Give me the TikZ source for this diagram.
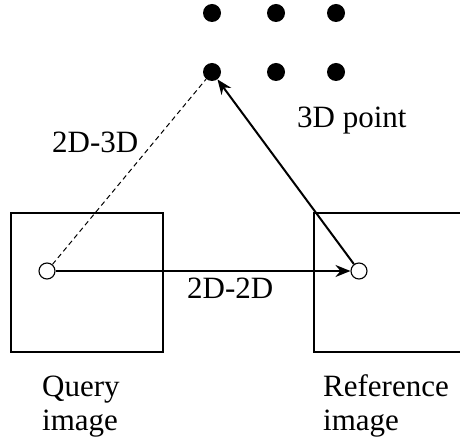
\documentclass[tikz,border=0pt]{standalone}
\usepackage{fontspec}
\setmainfont{Liberation Serif}
\newfontfamily\labelfont{Liberation Serif}
\usetikzlibrary{arrows.meta}
\begin{document}
\begin{tikzpicture}[x=1pt,y=-1pt,
  lbl/.style={anchor=base west,inner sep=0pt,font=\labelfont\fontsize{31}{34}\selectfont},
  frame/.style={draw,line width=2.4pt},
  world/.style={circle,fill=black,minimum size=18pt,inner sep=0pt},
  feat/.style={circle,draw,fill=white,line width=1.1pt,minimum size=16pt,inner sep=0pt},
  match/.style={line width=2pt,-{Stealth[length=15pt,width=12pt,inset=5pt]}},
  guess/.style={line width=1pt,dash pattern=on 5pt off 3.5pt}]
\useasboundingbox (0,0) rectangle (460,443);
\clip (0,0) rectangle (460,443);
% image planes
\draw[frame] (11,213) rectangle (163,352);
\draw[frame] (314,213) rectangle (480,352);
% 3D points
\node[world] (p11) at (212,13) {};
\node[world] (p12) at (276,13) {};
\node[world] (p13) at (336,13) {};
\node[world] (p21) at (212,72) {};
\node[world] (p22) at (276,72) {};
\node[world] (p23) at (336,72) {};
% 2D features
\node[feat] (q) at (47,271) {};
\node[feat] (r) at (359,271) {};
% correspondences
\draw[guess] (q) -- (p21);
\draw[match] (q) -- (r);
\draw[match] (r) -- (p21);
% labels
\node[lbl] (t3d) at (297,128) {3D point};
\node[lbl] (t23) at (52,153) {2D-3D};
\node[lbl] (t22) at (187,299) {2D-2D};
\node[lbl] (tq1) at (42,396) {Query};
\node[lbl] (tq2) at (42,430) {image};
\node[lbl] (tr1) at (323,396) {Reference};
\node[lbl] (tr2) at (323,430) {image};
\end{tikzpicture}
\end{document}
